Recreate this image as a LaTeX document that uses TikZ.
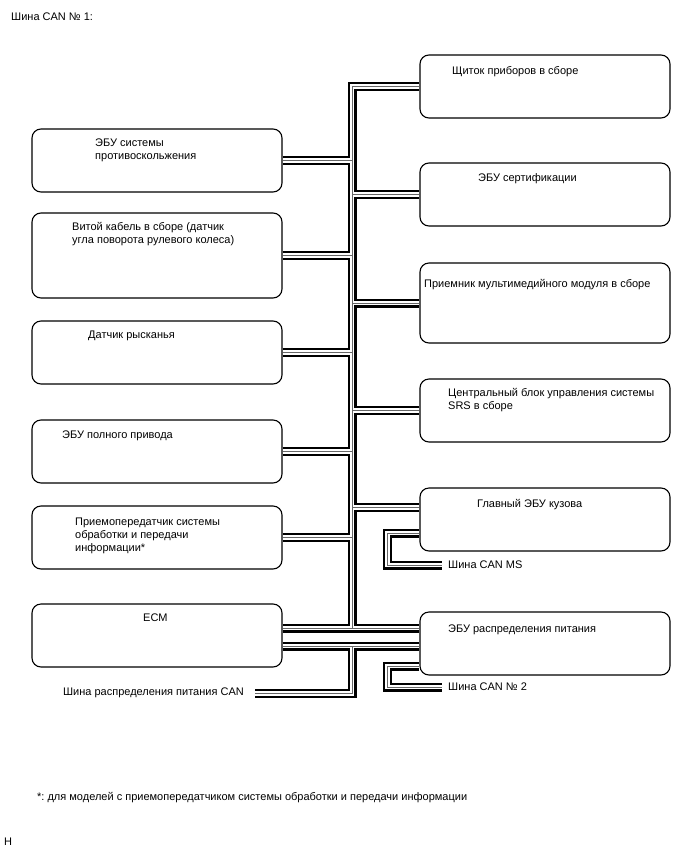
\documentclass[tikz,border=0pt]{standalone}
\usepackage{fontspec}
\setmainfont{Liberation Sans}
\usetikzlibrary{backgrounds}
\frenchspacing

\begin{document}
\begin{tikzpicture}[x=1pt,y=-1pt,
  every node/.style={inner sep=0pt},
  ecubox/.style={draw,line width=1.1pt,rounded corners=9pt,
    minimum width=250pt,minimum height=63pt,fill=white},
  lbl/.style={anchor=base west,align=left,
    font=\fontsize{11}{13}\selectfont},
  casing/.style={line width=9pt,black},
  gap/.style={line width=4.8pt,white},
  core/.style={line width=0.9pt,black!60}]
\useasboundingbox (0,0) rectangle (688,852);

% left column
\node[ecubox] (abs) at (157,160.5) {};
\node[ecubox,minimum height=85pt] (spiral) at (157,255.5) {};
\node[ecubox] (yaw) at (157,352.5) {};
\node[ecubox] (awd) at (157,451.5) {};
\node[ecubox] (dcm) at (157,537.5) {};
\node[ecubox] (ecm) at (157,635.5) {};
% right column
\node[ecubox] (meter) at (545,86.5) {};
\node[ecubox] (cert) at (545,194.5) {};
\node[ecubox,minimum height=80pt] (radio) at (545,303) {};
\node[ecubox] (srs) at (545,410.5) {};
\node[ecubox] (body) at (545,519.5) {};
\node[ecubox] (pwr) at (545,643.5) {};

% labels (base = last line)
\node[lbl] (abstxt) at (95,159) {ЭБУ системы\\противоскольжения};
\node[lbl] (spiraltxt) at (72,243) {Витой кабель в сборе (датчик\\угла поворота рулевого колеса)};
\node[lbl] (yawtxt) at (88,338) {Датчик рысканья};
\node[lbl] (awdtxt) at (62,438) {ЭБУ полного привода};
\node[lbl] (dcmtxt) at (75,551) {Приемопередатчик системы\\обработки и передачи\\информации*};
\node[lbl] (ecmtxt) at (143,621) {ECM};
\node[lbl] (metertxt) at (452,74) {Щиток приборов в сборе};
\node[lbl] (certtxt) at (478,181) {ЭБУ сертификации};
\node[lbl] (radiotxt) at (424,287) {Приемник мультимедийного модуля в сборе};
\node[lbl] (srstxt) at (448,409) {Центральный блок управления системы\\SRS в сборе};
\node[lbl] (bodytxt) at (477,507) {Главный ЭБУ кузова};
\node[lbl] (pwrtxt) at (448,632) {ЭБУ распределения питания};

% bus ends
\coordinate (ubus) at (352,628);
\coordinate (lbus) at (352,646);
\coordinate (pdend) at (255,693.5);
\coordinate (msend) at (442,565);
\coordinate (twoend) at (442,687);

\node[lbl] (title) at (11,20.5) {Шина CAN № 1:};
\node[lbl] (mstxt) at (448,568.5) {Шина CAN MS};
\node[lbl] (twotxt) at (448,690.5) {Шина CAN № 2};
\node[lbl,anchor=base east] (pdtxt) at (244,695.5) {Шина распределения питания CAN};
\node[lbl] (note) at (37,800.5) {*: для моделей с приемопередатчиком системы обработки и передачи информации};
\node[lbl] (code) at (4,845) {H};

\begin{scope}[on background layer]
\foreach \wire in {casing,gap,core}{
  \draw[\wire] (meter.west) -| (ubus);
  \draw[\wire] (abs.east) -- (abs.east -| ubus);
  \draw[\wire] (spiral.east) -- (spiral.east -| ubus);
  \draw[\wire] (yaw.east) -- (yaw.east -| ubus);
  \draw[\wire] (awd.east) -- (awd.east -| ubus);
  \draw[\wire] (dcm.east) -- (dcm.east -| ubus);
  \draw[\wire] (cert.west) -- (cert.west -| ubus);
  \draw[\wire] (radio.west) -- (radio.west -| ubus);
  \draw[\wire] (srs.west) -- (srs.west -| ubus);
  \draw[\wire] ([yshift=12pt]body.west) -- ([yshift=12pt]body.west -| ubus);
  \draw[\wire] (ubus -| ecm.east) -- (ubus -| pwr.west);
  \draw[\wire] (lbus -| ecm.east) -- (lbus -| pwr.west);
  \draw[\wire] (lbus) |- (pdend);
  \draw[\wire] ([yshift=-13.5pt]body.west) -- ++(-32,0) |- (msend);
  \draw[\wire] ([yshift=-22.5pt]pwr.west) -- ++(-32,0) |- (twoend);
}
\end{scope}
\end{tikzpicture}
\end{document}
